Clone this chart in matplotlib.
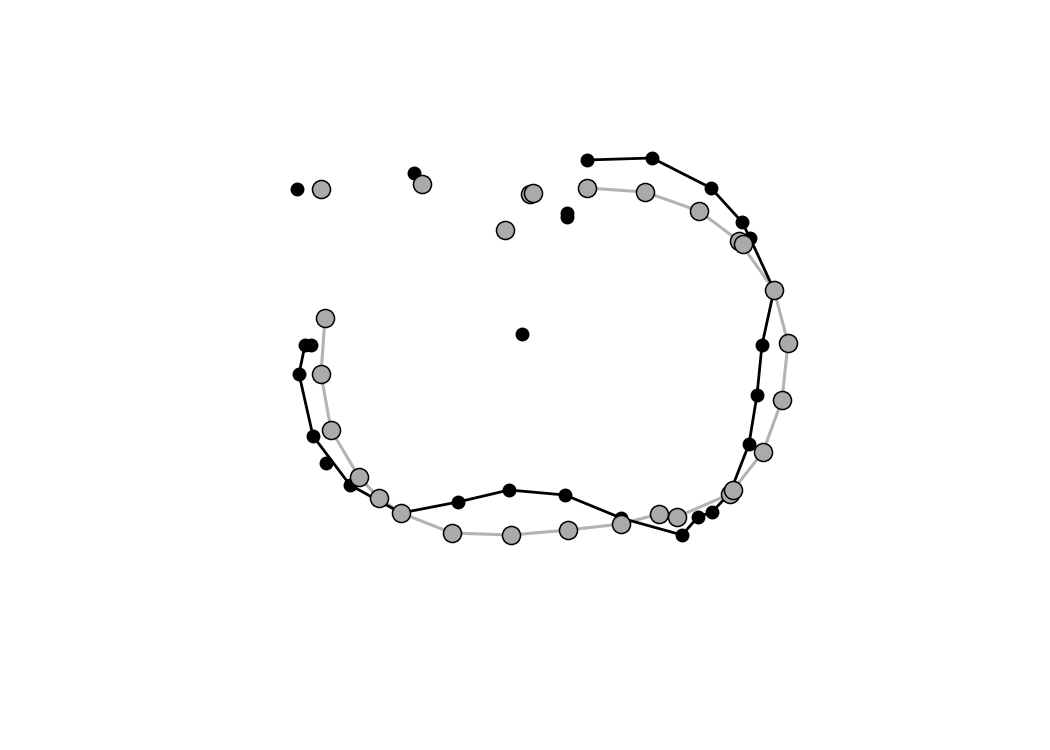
import numpy as np
import matplotlib
matplotlib.use("Agg")
import matplotlib.pyplot as plt

# Shape A (black) - outline points, connected in order
a_line_x = [311, 305, 299, 313, 350, 401, 458, 509, 565, 621, 682, 698, 712, 730,
            749, 757, 762, 774, 750, 742, 711, 652, 587]
a_line_y = [345, 345, 374, 436, 485, 513, 502, 490, 495, 518, 535, 517, 512, 493,
            444, 395, 345, 290, 238, 222, 188, 158, 160]
# Shape A - loose points
a_pts_x = [297, 414, 567, 567, 522, 326]
a_pts_y = [189, 173, 213, 217, 334, 463]

# Shape B (grey) - outline points
b_line_x = [325, 321, 331, 359, 379, 401, 452, 511, 568, 621, 659, 677, 730, 733,
            763, 782, 788, 774, 739, 743, 699, 645, 587]
b_line_y = [318, 374, 430, 477, 498, 513, 533, 535, 530, 524, 514, 517, 494, 490,
            452, 400, 343, 290, 241, 244, 211, 192, 188]
# Shape B - loose points
b_pts_x = [321, 422, 530, 533, 505]
b_pts_y = [189, 184, 194, 193, 230]

fig = plt.figure(figsize=(10.5, 7.5), dpi=100)
ax = fig.add_axes([0, 0, 1, 1])

# lines first, then markers (grey markers on top)
ax.plot(b_line_x, b_line_y, color="#b3b3b3", lw=2.2, zorder=1)
ax.plot(a_line_x, a_line_y, color="black", lw=2.0, zorder=2)
ax.plot(a_line_x + a_pts_x, a_line_y + a_pts_y, ls="none", marker="o",
        ms=9, color="black", zorder=3)
ax.plot(b_line_x + b_pts_x, b_line_y + b_pts_y, ls="none", marker="o",
        ms=13, mfc="#aaaaaa", mec="black", mew=1.1, zorder=4)

ax.set_xlim(0, 1050)
ax.set_ylim(750, 0)
ax.axis("off")

fig.savefig("out.png", dpi=100)
